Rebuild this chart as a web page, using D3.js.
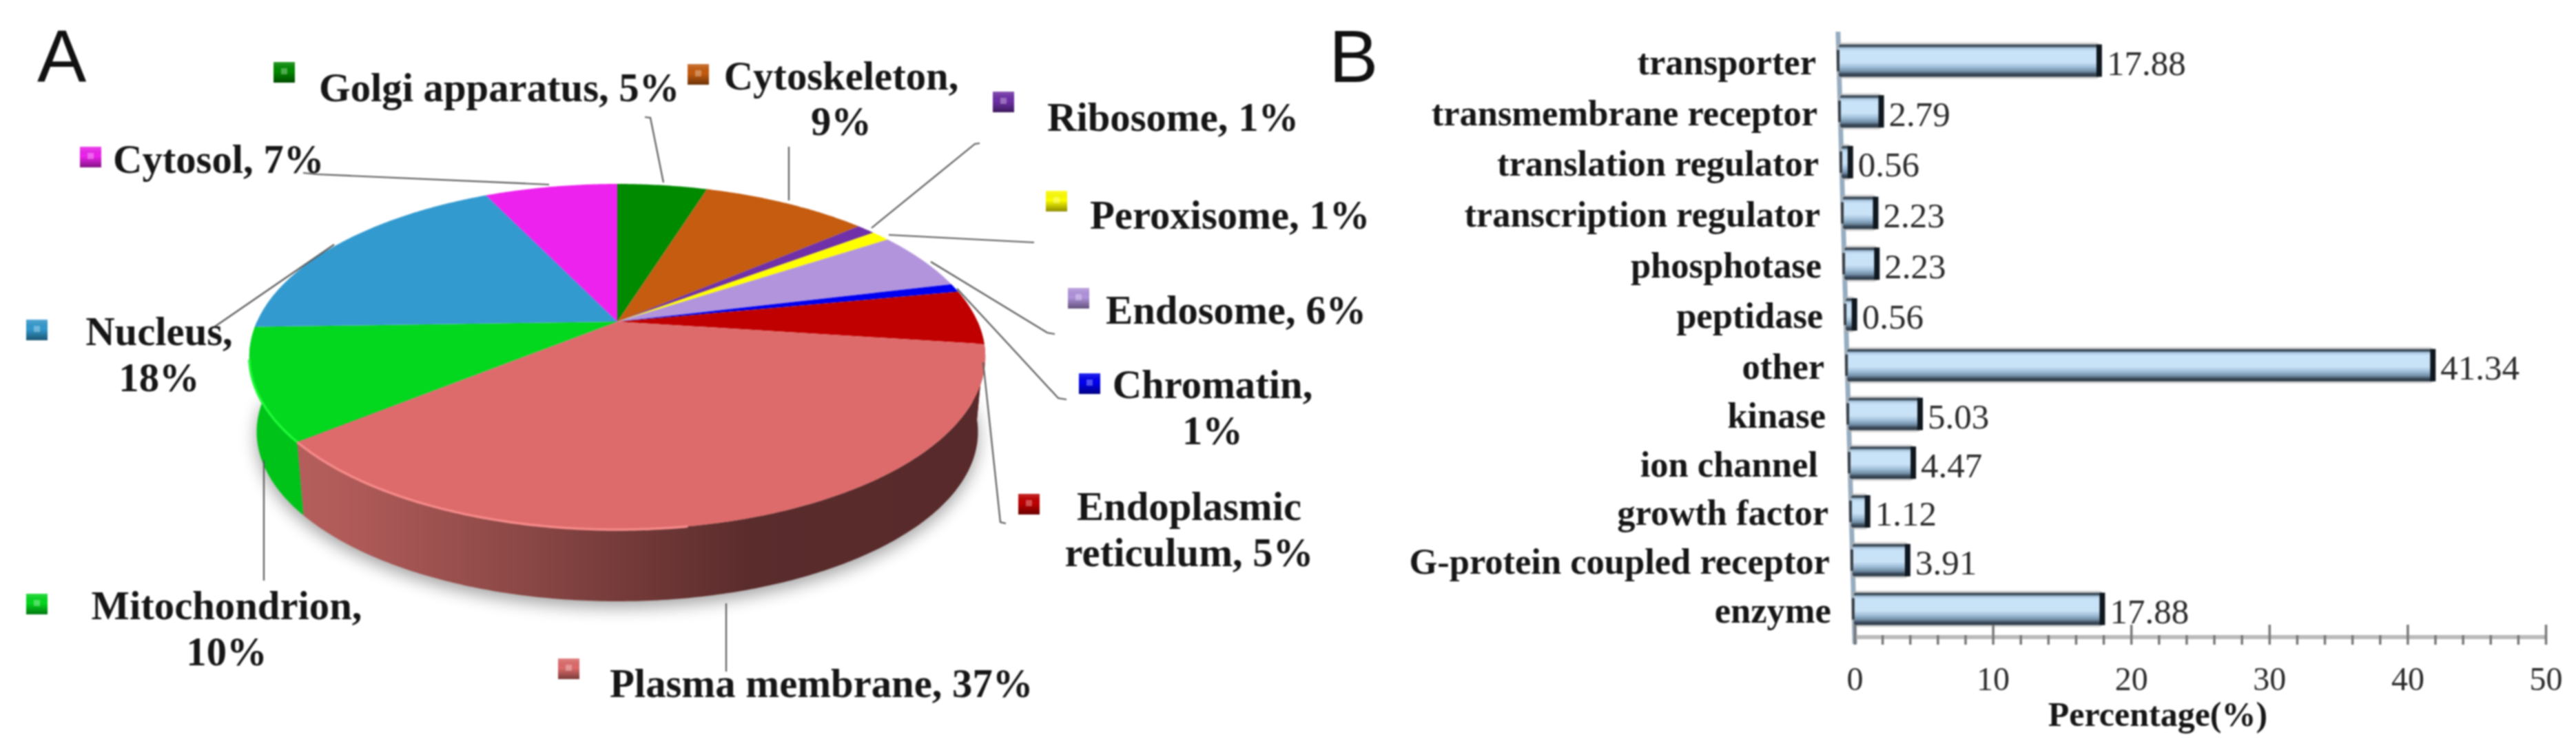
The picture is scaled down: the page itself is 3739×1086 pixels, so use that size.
<!DOCTYPE html>
<html><head><meta charset="utf-8">
<script src="https://cdn.jsdelivr.net/npm/d3@7/dist/d3.min.js"></script>
<style>html,body{margin:0;padding:0;background:#fff}svg{display:block;filter:blur(1.1px)}text{white-space:pre}</style>
</head><body><svg id="c" width="3739" height="1086" xmlns="http://www.w3.org/2000/svg"></svg>
<script>
// ---- Data ----
const sliceNames=["Golgi apparatus","Cytoskeleton","Ribosome","Peroxisome","Endosome","Chromatin","Endoplasmic reticulum","Plasma membrane","Mitochondrion","Nucleus","Cytosol"];
const sliceValues=[4.8,8.9,1.0,1.0,5.5,0.8,5.1,37.0,10.4,18.4,7.1];
const barCategories=["transporter","transmembrane receptor","translation regulator","transcription regulator","phosphotase","peptidase","other","kinase","ion channel ","growth factor","G-protein coupled receptor","enzyme"];
const barValues=[17.88,2.79,0.56,2.23,2.23,0.56,41.34,5.03,4.47,1.12,3.91,17.88];
const axisMajor=[0,10,20,30,40,50];
const axisMinor=[2,4,6,8,12,14,16,18,22,24,26,28,32,34,36,38,42,44,46,48];
const axisTitle="Percentage(%)";
// ---- Styles / layout ----
const sliceColors=["#008a00","#c55c10","#7030a8","#ffff00","#b294dd","#0000f0","#c00000","#de6b6b","#04d81e","#339acf","#ee22ee"];
const labelLayout=[
 {sq:[397,90],x:463,y:[147],a:"start",leader:[[936,170],[944,171],[963,265]]},
 {sq:[998,93],x:1221,y:[130,196],a:"middle",split:1,leader:[[1145,213],[1145,291]]},
 {sq:[1441,133],x:1520,y:[190],a:"start",leader:[[1422,208],[1415,209],[1265,331]]},
 {sq:[1518,277],x:1582,y:[332],a:"start",leader:[[1501,352],[1290,341]]},
 {sq:[1550,418],x:1605,y:[470],a:"start",leader:[[1531,485],[1520,483],[1351,380]]},
 {sq:[1566,542],x:1760,y:[578,645],a:"middle",split:1,leader:[[1548,580],[1536,578],[1389,419]]},
 {sq:[1478,717],x:1726,y:[755,822],a:"middle",split:1,leader:[[1460,760],[1452,758],[1427,526]]},
 {sq:[810,956],x:885,y:[1012],a:"start",leader:[[1054,975],[1054,876]]},
 {sq:[38,862],x:329,y:[899,966],a:"middle",split:1,leader:[[383,843],[383,668]]},
 {sq:[38,464],x:231,y:[501,568],a:"middle",split:1,leader:[[312,474],[485,355]]},
 {sq:[116,213],x:164,y:[251],a:"start",leader:[[440,251],[459,253],[797,268]]}
];
const svg=d3.select("#c"),defs=svg.append("defs");
const SERIF="'Liberation Serif','Times New Roman',serif",SANS="'Liberation Sans',Arial,sans-serif";
const DARK="#161616";
svg.append("text").attr("x",54).attr("y",119).attr("font-family",SANS).attr("font-size",107).attr("fill","#111").text("A");
svg.append("text").attr("x",1929).attr("y",119).attr("font-family",SANS).attr("font-size",107).attr("fill","#111").text("B");

// ---- Panel A: perspective 3D pie ----
const cx=896,cy=467,Rx=523,Ry=240.6,k=-0.2033,depth=110,bottomShrink=0.98;
const proj=(t,lower)=>{const x=Math.sin(t),y=-Math.cos(t),w=1+k*y;
  const X=Rx*x/w,Y=Ry*y/w;
  return lower?[cx+X*bottomShrink,cy+Y*bottomShrink+depth]:[cx+X,cy+Y];};
const arcs=d3.pie().sort(null).value(d=>d)(sliceValues);
const line=d3.line();
const rimPts=(a,b,lower)=>{const n=Math.max(2,Math.ceil((b-a)/0.01));return d3.range(n+1).map(i=>proj(a+(b-a)*i/n,lower));};
const sh=defs.append("filter").attr("id","shadow").attr("x","-20%").attr("y","-20%").attr("width","140%").attr("height","140%");
sh.append("feGaussianBlur").attr("stdDeviation",12);
const gradSide=(id,stops)=>{const g=defs.append("linearGradient").attr("id",id).attr("gradientUnits","userSpaceOnUse").attr("x1",360).attr("x2",1430).attr("y1",0).attr("y2",0);
  stops.forEach(s=>g.append("stop").attr("offset",s[0]).attr("stop-color",s[1]));};
gradSide("sidePlasma",[[0,"#b8625f"],[0.12,"#b25c5a"],[0.35,"#8e4a48"],[0.52,"#733a39"],[0.68,"#5b2c2c"],[1,"#582a2b"]]);
gradSide("sideGreen",[[0,"#00c41a"],[1,"#00b014"]]);
const sideFill=i=>i===7?"url(#sidePlasma)":i===8?"url(#sideGreen)":d3.color(sliceColors[i]).darker(0.8);
svg.append("path").attr("filter","url(#shadow)").attr("fill","#000").attr("opacity",0.36)
  .attr("transform","translate(0,9)").attr("d",line(rimPts(Math.PI*0.5,Math.PI*1.5,true))+"Z");
const g3=svg.append("g");
g3.selectAll("path.side").data(arcs.filter(d=>d.endAngle>Math.PI/2&&d.startAngle<Math.PI*1.5)).join("path")
  .attr("fill",d=>sideFill(d.index))
  .attr("d",d=>{const a=Math.max(d.startAngle,Math.PI/2),b=Math.min(d.endAngle,Math.PI*1.5);
    return line(rimPts(a,b,false).concat(rimPts(a,b,true).reverse()))+"Z";});
g3.selectAll("path.top").data(arcs).join("path")
  .attr("fill",d=>sliceColors[d.index])
  .attr("d",d=>line([[cx,cy]].concat(rimPts(d.startAngle,d.endAngle,false)))+"Z");
g3.selectAll("path.rim").data(arcs.filter(d=>d.index===7||d.index===8)).join("path")
  .attr("fill","none").attr("stroke-width",3.5)
  .attr("stroke",d=>d.index===7?"#f58a8a":"#20f838")
  .attr("d",d=>{const a=Math.max(d.startAngle,Math.PI*0.95),b=Math.min(d.endAngle,Math.PI*1.43);return line(rimPts(a,b,false));});
svg.append("g").selectAll("path").data(labelLayout).join("path")
  .attr("fill","none").attr("stroke","#5a5a5a").attr("stroke-width",2.2).attr("d",d=>line(d.leader));
const shade=defs.append("linearGradient").attr("id","sqShade").attr("x1",0).attr("x2",0).attr("y1",0).attr("y2",1);
[[0,"#fff",0.18],[0.45,"#000",0],[1,"#000",0.45]].forEach(s=>shade.append("stop").attr("offset",s[0]).attr("stop-color",s[1]).attr("stop-opacity",s[2]));
const sq=svg.append("g").selectAll("g").data(labelLayout).join("g").attr("transform",d=>`translate(${d.sq})`);
sq.append("rect").attr("width",31).attr("height",30).attr("fill",(d,i)=>sliceColors[i]);
sq.append("rect").attr("width",31).attr("height",30).attr("fill","url(#sqShade)");
sq.append("rect").attr("x",11).attr("y",9).attr("width",9).attr("height",9).attr("fill","#fff").attr("opacity",0.3);
const lab=svg.append("g").attr("font-family",SERIF).attr("font-weight","bold").attr("font-size",58.7).attr("fill",DARK);
labelLayout.forEach((L,i)=>{
  const words=`${sliceNames[i]}, ${Math.round(sliceValues[i])}%`.split(" ");
  const lines=L.split?[words.slice(0,L.split).join(" "),words.slice(L.split).join(" ")]:[words.join(" ")];
  lines.forEach((t,j)=>lab.append("text").attr("x",L.x).attr("y",L.y[j]).attr("text-anchor",L.a).text(t));
});

// ---- Panel B: slightly warped horizontal bars ----
const y=d3.scaleBand().domain(barCategories).range([51.8,920.2]).paddingInner(0.35).paddingOuter(0.175);
const warp=d3.scaleLinear().domain([88,522,884]).range([88,530,884]);
const yc=d=>warp(y(d)+y.bandwidth()/2);
const left=d3.scaleLinear().domain([88,925]).range([2669,2692]);
const right=d3.scaleLinear().domain([88,925]).range([3723,3695]);
const rowX=yy=>d3.scaleLinear().domain([0,50]).range([left(yy),right(yy)]);
const bg=defs.append("linearGradient").attr("id","barFill").attr("x1",0).attr("x2",0).attr("y1",0).attr("y2",1);
[[0,"#3c4a58"],[0.06,"#3c4a58"],[0.11,"#a8c4dc"],[0.2,"#c8e2f8"],[0.55,"#c9e2f6"],[0.7,"#9fbdd8"],[0.84,"#6e8aa2"],[0.91,"#3d4c5c"],[1,"#2a3744"]].forEach(s=>bg.append("stop").attr("offset",s[0]).attr("stop-color",s[1]));
svg.append("line").attr("x1",left(46)).attr("y1",46).attr("x2",left(935)).attr("y2",935).attr("stroke","#96acbf").attr("stroke-width",7);
const rows=barCategories.map((c,i)=>({c,v:barValues[i],yy:yc(c),sx:rowX(yc(c))}));
const bh=y.bandwidth();
const gb=svg.append("g").selectAll("g").data(rows).join("g");
gb.append("rect").attr("x",d=>d.sx(0)).attr("y",d=>d.yy-bh/2).attr("rx",4)
  .attr("width",d=>d.sx(d.v)-d.sx(0)).attr("height",bh)
  .attr("fill","none").attr("stroke","#b4b4b4").attr("stroke-width",6).attr("opacity",0.55);
gb.append("rect").attr("x",d=>d.sx(0)).attr("y",d=>d.yy-bh/2).attr("rx",3)
  .attr("width",d=>d.sx(d.v)-d.sx(0)).attr("height",bh).attr("fill","url(#barFill)");
gb.append("line").attr("x1",d=>d.sx(0)-1).attr("x2",d=>d.sx(0)-1).attr("y1",d=>d.yy-bh/2+8).attr("y2",d=>d.yy+bh/2-8)
  .attr("stroke","#3a3f44").attr("stroke-width",4);
gb.append("rect").attr("x",d=>d.sx(d.v)-3).attr("y",d=>d.yy-bh/2).attr("width",8).attr("height",bh).attr("fill","#10181f");
gb.append("text").attr("x",d=>d.sx(0)-33).attr("y",d=>d.yy+20).attr("text-anchor","end")
  .attr("font-family",SERIF).attr("font-weight","bold").attr("font-size",52.5).attr("fill",DARK).text(d=>d.c);
gb.append("text").attr("x",d=>d.sx(d.v)+12).attr("y",d=>d.yy+21)
  .attr("font-family",SERIF).attr("font-size",51).attr("fill","#2a2a2a").text(d=>d3.format(".2f")(d.v));
const xAxis=d3.scaleLinear().domain([0,50]).range([2692,3695]);
const minor=svg.append("g").attr("transform","translate(0,925)").call(d3.axisBottom(xAxis).tickValues(axisMinor).tickSize(10).tickFormat(""));
minor.select(".domain").remove();
const major=svg.append("g").attr("transform","translate(0,925)").call(d3.axisBottom(xAxis).tickValues(axisMajor).tickSize(10));
major.select(".domain").attr("stroke","#bbb").attr("stroke-width",6).attr("d",`M${xAxis(0)},0H${xAxis(50)}`);
minor.raise();
minor.selectAll("line").attr("y1",-3).attr("y2",11).attr("stroke","#777").attr("stroke-width",3.5);
major.selectAll("line").attr("y1",-18).attr("y2",11).attr("stroke","#777").attr("stroke-width",3.5);
major.selectAll("text").attr("y",77).attr("dy",0).attr("font-family",SERIF).attr("font-size",48).attr("fill","#2a2a2a");
svg.append("text").attr("x",3132).attr("y",1054).attr("text-anchor","middle").attr("font-family",SERIF).attr("font-weight","bold").attr("font-size",50).attr("fill",DARK).text(axisTitle);
</script></body></html>
